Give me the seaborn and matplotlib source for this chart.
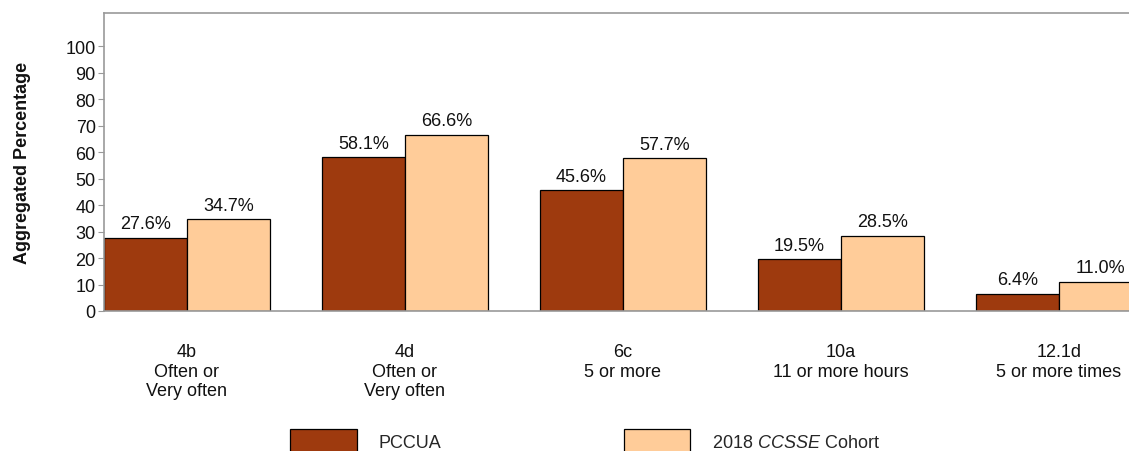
import matplotlib
matplotlib.use("Agg")
import matplotlib.pyplot as plt
import seaborn as sns
import pandas as pd
from matplotlib.patches import Patch

categories = ["4b\nOften or\nVery often", "4d\nOften or\nVery often", "6c\n5 or more",
              "10a\n11 or more hours", "12.1d\n5 or more times"]
series_names = ["PCCUA", "2018 CCSSE Cohort"]
pccua = [27.6, 58.1, 45.6, 19.5, 6.4]
cohort = [34.7, 66.6, 57.7, 28.5, 11.0]
yticks = [0, 10, 20, 30, 40, 50, 60, 70, 80, 90, 100]

colors = ["#9E3A0E", "#FFCC99"]

sns.set_theme(style="white")
plt.rcParams['font.family'] = ['Liberation Sans', 'DejaVu Sans']
plt.rcParams['mathtext.fontset'] = 'custom'
plt.rcParams['mathtext.rm'] = 'Liberation Sans'
plt.rcParams['mathtext.it'] = 'Liberation Sans:italic'

df = pd.DataFrame({
    "cat": categories * 2,
    "series": [series_names[0]] * len(categories) + [series_names[1]] * len(categories),
    "value": pccua + cohort,
})

FS = 13
fig = plt.figure(figsize=(11.29, 4.52), dpi=100)
W, H = 1129, 452
x_left = -0.38
x_right = 4.5
px_per_unit = 218
ax = fig.add_axes([104 / W, (H - 312) / H, (x_right - x_left) * px_per_unit / W, (312 - 14) / H])

sns.barplot(data=df, x="cat", y="value", hue="series", order=categories,
            hue_order=series_names, palette=colors, width=0.76, gap=0,
            edgecolor="black", linewidth=0.9, ax=ax, legend=False, saturation=1)

for cont in ax.containers:
    ax.bar_label(cont, fmt="%.1f%%", padding=4, fontsize=FS, color="#111111")

ax.set_xlim(x_left, x_right)
ax.set_ylim(0, 112.5)
ax.set_yticks(yticks)
ax.set_yticklabels([str(t) for t in yticks], fontsize=FS, color="#111111")
ax.tick_params(axis="y", length=4, width=0.8, color="#999999", pad=2, left=True)
ax.tick_params(axis="x", length=0, pad=23, labelsize=FS, labelcolor="#111111")
for lbl in ax.get_xticklabels():
    lbl.set_linespacing(1.2)
ax.set_xlabel("")
ax.set_ylabel("Aggregated Percentage", fontsize=FS, fontweight="bold", labelpad=25, color="#111111")

for side in ["left", "top", "bottom"]:
    ax.spines[side].set_visible(True)
    ax.spines[side].set_color("#999999")
    ax.spines[side].set_linewidth(1.2)
ax.spines["right"].set_visible(False)

handles = [Patch(facecolor=colors[0], edgecolor="black", linewidth=0.9),
           Patch(facecolor=colors[1], edgecolor="black", linewidth=0.9)]
labels = ["PCCUA", "2018 $\\it{CCSSE}$ Cohort"]
fig.legend(handles, labels, ncol=2, loc="lower left", bbox_to_anchor=(290 / W, -0.002),
           frameon=False, fontsize=FS, handlelength=3.7, handleheight=1.55,
           handletextpad=1.2, columnspacing=10.1, borderpad=0, borderaxespad=0)

fig.savefig("out.png", dpi=100)
